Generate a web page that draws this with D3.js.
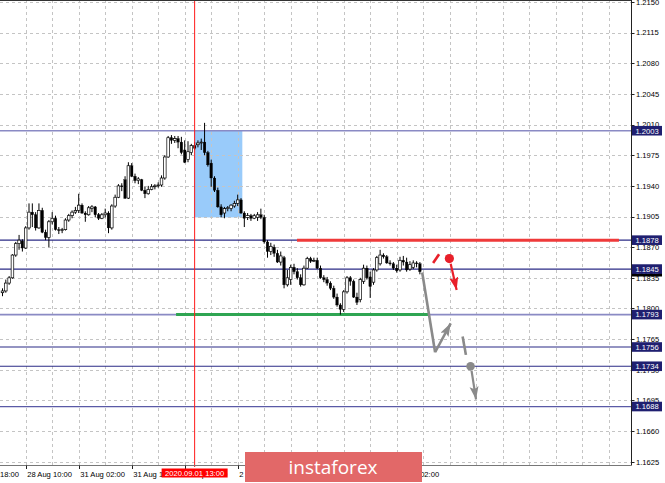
<!DOCTYPE html>
<html><head><meta charset="utf-8">
<script src="https://cdn.jsdelivr.net/npm/d3@7"></script>
<style>body{margin:0;background:#fff;}svg{display:block;font-family:"Liberation Sans",Arial,sans-serif;}</style>
</head><body><svg id="c" width="665" height="483"></svg>
<script>
// ---- data (EURUSD H1) ----
const opens=[1.1818,1.1820,1.1829,1.1835,1.1861,1.1874,1.1877,1.1869,1.1892,1.1910,
1.1907,1.1892,1.1912,1.1887,1.1881,1.1899,1.1903,1.1890,1.1889,1.1890,
1.1901,1.1906,1.1910,1.1912,1.1918,1.1909,1.1907,1.1914,1.1916,1.1907,
1.1903,1.1907,1.1909,1.1892,1.1917,1.1927,1.1940,1.1947,1.1926,1.1963,
1.1951,1.1946,1.1947,1.1935,1.1931,1.1936,1.1939,1.1940,1.1941,1.1949,
1.1973,1.1995,1.1992,1.1994,1.1990,1.1981,1.1970,1.1978,1.1986,1.1987,
1.1989,1.1990,1.1978,1.1966,1.1949,1.1935,1.1916,1.1909,1.1914,1.1914,
1.1917,1.1920,1.1924,1.1909,1.1904,1.1906,1.1903,1.1904,1.1907,1.1904,
1.1876,1.1865,1.1870,1.1863,1.1853,1.1858,1.1827,1.1833,1.1847,1.1842,
1.1835,1.1827,1.1846,1.1857,1.1854,1.1855,1.1846,1.1835,1.1833,1.1829,
1.1823,1.1813,1.1804,1.1799,1.1819,1.1835,1.1831,1.1813,1.1810,1.1831,
1.1846,1.1836,1.1830,1.1844,1.1851,1.1861,1.1859,1.1852,1.1851,1.1846,
1.1844,1.1855,1.1853,1.1845,1.1847,1.1852,1.1851];
const closes=[1.1820,1.1829,1.1835,1.1861,1.1874,1.1878,1.1869,1.1892,1.1910,1.1907,
1.1892,1.1912,1.1887,1.1881,1.1899,1.1903,1.1890,1.1889,1.1890,1.1901,
1.1906,1.1910,1.1912,1.1918,1.1909,1.1907,1.1915,1.1916,1.1907,1.1903,
1.1907,1.1909,1.1892,1.1917,1.1927,1.1940,1.1939,1.1926,1.1963,1.1951,
1.1946,1.1948,1.1935,1.1931,1.1936,1.1939,1.1940,1.1941,1.1949,1.1973,
1.1995,1.1992,1.1994,1.1990,1.1978,1.1967,1.1979,1.1986,1.1983,1.1989,
1.1990,1.1978,1.1964,1.1949,1.1935,1.1916,1.1907,1.1914,1.1915,1.1918,
1.1920,1.1924,1.1909,1.1903,1.1906,1.1903,1.1906,1.1907,1.1904,1.1876,
1.1865,1.1871,1.1863,1.1853,1.1860,1.1827,1.1835,1.1847,1.1842,1.1835,
1.1827,1.1846,1.1857,1.1854,1.1855,1.1846,1.1835,1.1833,1.1829,1.1823,
1.1813,1.1804,1.1799,1.1819,1.1835,1.1831,1.1813,1.1807,1.1833,1.1846,
1.1835,1.1825,1.1844,1.1858,1.1861,1.1859,1.1852,1.1851,1.1846,1.1843,
1.1855,1.1853,1.1844,1.1850,1.1852,1.1851,1.1842];
const highs=[1.1823,1.1833,1.1837,1.1862,1.1876,1.1884,1.1879,1.1894,1.1920,1.1920,
1.1910,1.1920,1.1915,1.1890,1.1901,1.1910,1.1906,1.1893,1.1892,1.1903,
1.1908,1.1912,1.1916,1.1931,1.1920,1.1911,1.1917,1.1918,1.1917,1.1909,
1.1909,1.1914,1.1911,1.1919,1.1930,1.1942,1.1943,1.1951,1.1967,1.1966,
1.1954,1.1950,1.1948,1.1939,1.1940,1.1942,1.1942,1.1944,1.1952,1.1975,
1.1997,1.1998,1.1997,1.1997,1.1996,1.1992,1.1991,1.1988,1.1990,1.1992,
1.1994,1.2012,1.1980,1.1970,1.1951,1.1938,1.1919,1.1916,1.1917,1.1919,
1.1923,1.1930,1.1926,1.1911,1.1909,1.1908,1.1908,1.1910,1.1914,1.1907,
1.1878,1.1875,1.1873,1.1867,1.1865,1.1860,1.1844,1.1850,1.1851,1.1846,
1.1839,1.1849,1.1859,1.1859,1.1858,1.1858,1.1849,1.1838,1.1836,1.1831,
1.1826,1.1817,1.1806,1.1821,1.1837,1.1837,1.1833,1.1818,1.1835,1.1850,
1.1849,1.1842,1.1846,1.1860,1.1867,1.1863,1.1861,1.1855,1.1853,1.1850,
1.1859,1.1860,1.1858,1.1854,1.1855,1.1854,1.1853];
const lows=[1.1814,1.1818,1.1827,1.1834,1.1859,1.1867,1.1865,1.1868,1.1890,1.1893,
1.1889,1.1891,1.1886,1.1878,1.1870,1.1896,1.1889,1.1885,1.1886,1.1889,
1.1899,1.1903,1.1908,1.1909,1.1908,1.1899,1.1906,1.1910,1.1904,1.1901,
1.1902,1.1904,1.1886,1.1890,1.1915,1.1926,1.1934,1.1925,1.1925,1.1950,
1.1943,1.1942,1.1934,1.1926,1.1930,1.1935,1.1936,1.1938,1.1939,1.1947,
1.1972,1.1988,1.1989,1.1983,1.1976,1.1966,1.1967,1.1975,1.1981,1.1984,
1.1981,1.1975,1.1962,1.1939,1.1933,1.1915,1.1904,1.1903,1.1911,1.1911,
1.1915,1.1917,1.1908,1.1893,1.1901,1.1900,1.1902,1.1900,1.1902,1.1874,
1.1858,1.1861,1.1859,1.1852,1.1849,1.1823,1.1825,1.1827,1.1839,1.1833,
1.1825,1.1826,1.1845,1.1852,1.1853,1.1845,1.1834,1.1830,1.1826,1.1821,
1.1811,1.1802,1.1793,1.1796,1.1817,1.1826,1.1812,1.1804,1.1807,1.1828,
1.1833,1.1812,1.1827,1.1842,1.1849,1.1857,1.1851,1.1849,1.1844,1.1841,
1.1842,1.1849,1.1842,1.1843,1.1845,1.1847,1.1839];

const yTicks=[1.2150,1.2115,1.2080,1.2045,1.2010,1.1975,1.1940,1.1905,1.1870,1.1835,1.1800,1.1765,1.1730,1.1695,1.1660,1.1625];
const xTickIdx=[-9,7,23,39,55,71,87,103,119];
const xTickLabels=["27 Aug 18:00","28 Aug 10:00","31 Aug 02:00","31 Aug 18:00","1 Sep 10:00","2 Sep 02:00","2 Sep 18:00","3 Sep 10:00","4 Sep 02:00"];
const levels=[1.2003,1.1878,1.1845,1.1793,1.1756,1.1734,1.1688];
const levelTone=["light","dark","dark","light","dark","dark","mid"];
const bidPrice=1.1842;
const cursorIdx=58, cursorLabel="2020.09.01 13:00";
const zone={i0:57.8,i1:72.4,p0:1.2003,p1:1.1904};
const resistance={i0:88.9,i1:186.1,p:1.1878};
const support={i0:52.4,i1:128.5,p:1.1793};
// annotation paths in (bar index, price)
const redDash=[[130.0,1.1852],[131.8,1.1862]];
const redDot=[134.9,1.1857];
const redArrow=[[135.3,1.1851],[137.1,1.1821]];
const grayDown=[[126.7,1.1841],[130.6,1.1750]];
const grayUp=[[130.6,1.1750],[135.3,1.1783]];
const grayDash=[[138.9,1.1768],[139.9,1.1747]];
const grayDot=[141.3,1.1734];
const grayArrow=[[141.6,1.1729],[142.95,1.1696]];

// ---- scales ----
const W=665,H=483,R=631,B=465.5;
const step=3.3125;
const x=d3.scaleLinear().domain([0,1]).range([2.5,2.5+step]);
const y=d3.scaleLinear().domain([1.1625,1.2150]).range([461.7,2]);
const svg=d3.select("#c");
const ax=v=>Math.round(v)+0.5;

// zone
svg.append("rect").attr("x",x(zone.i0)).attr("y",y(zone.p0)).attr("width",x(zone.i1)-x(zone.i0)).attr("height",y(zone.p1)-y(zone.p0)).attr("fill","#99cbfa");

// grid
const g=svg.append("g").attr("stroke","#c4c4c4").attr("stroke-dasharray","3,3").attr("stroke-width",1);
yTicks.forEach(t=>g.append("line").attr("x1",0).attr("x2",R).attr("y1",ax(y(t))).attr("y2",ax(y(t))));
d3.range(-1,190,8).forEach(i=>{const px=x(i); if(px<R-2) g.append("line").attr("x1",ax(px)).attr("x2",ax(px)).attr("y1",0).attr("y2",B)});

// level lines
const toneCol={light:"#8a8ac4",dark:"#2b2b86",mid:"#5a5aa6"};
levels.forEach((l,k)=>svg.append("line").attr("x1",0).attr("x2",R).attr("y1",y(l)).attr("y2",y(l)).attr("stroke",toneCol[levelTone[k]]).attr("stroke-width",levelTone[k]==="light"?1.6:1.2));

// resistance / support
svg.append("line").attr("x1",x(resistance.i0)).attr("x2",x(resistance.i1)).attr("y1",y(resistance.p)).attr("y2",y(resistance.p)).attr("stroke","#ef3a3a").attr("stroke-width",3);
svg.append("line").attr("x1",x(support.i0)).attr("x2",x(support.i1)).attr("y1",y(support.p)).attr("y2",y(support.p)).attr("stroke","#2fa552").attr("stroke-width",3);

// candles
const cg=svg.append("g");
opens.forEach((o,i)=>{
  const c=closes[i],cx=x(i);
  cg.append("line").attr("x1",cx).attr("x2",cx).attr("y1",y(highs[i])).attr("y2",y(lows[i])).attr("stroke","#000").attr("stroke-width",1);
  const top=y(Math.max(o,c)),bot=y(Math.min(o,c));
  const bull=c>=o;
  cg.append("rect").attr("x",cx-1.3).attr("width",2.6).attr("y",top).attr("height",Math.max(0.8,bot-top))
    .attr("fill",bull?"#fff":"#000").attr("stroke","#000").attr("stroke-width",bull?0.7:0.3);
});

// cursor line
svg.append("line").attr("x1",x(cursorIdx)).attr("x2",x(cursorIdx)).attr("y1",0).attr("y2",467).attr("stroke","#ff1a1a").attr("stroke-width",1);

// arrows
const defs=svg.append("defs");
function marker(id,col){defs.append("marker").attr("id",id).attr("markerUnits","userSpaceOnUse").attr("markerWidth",14).attr("markerHeight",10).attr("refX",13).attr("refY",4.5).attr("orient","auto").append("path").attr("d","M0,0 L13,4.5 L0,9 L2.5,4.5 Z").attr("fill",col);}
marker("ar","#e8202a");marker("ag","#8a8a8a");
function seg(pts,col,w,opts={}){
  const l=svg.append("line").attr("x1",x(pts[0][0])).attr("y1",y(pts[0][1])).attr("x2",x(pts[1][0])).attr("y2",y(pts[1][1])).attr("stroke",col).attr("stroke-width",w).attr("stroke-linecap","butt");
  if(opts.m) l.attr("marker-end",`url(#${opts.m})`);
  return l;}
seg(redDash,"#e8202a",2.6);
svg.append("circle").attr("cx",x(redDot[0])).attr("cy",y(redDot[1])).attr("r",4.6).attr("fill","#e8202a");
seg(redArrow,"#e8202a",2.2,{m:"ar"});
seg(grayDown,"#8a8a8a",2.6);
seg(grayUp,"#8a8a8a",2.6,{m:"ag"});
seg(grayDash,"#8a8a8a",2.6);
svg.append("circle").attr("cx",x(grayDot[0])).attr("cy",y(grayDot[1])).attr("r",4.3).attr("fill","#8a8a8a");
seg(grayArrow,"#8a8a8a",2.2,{m:"ag"});

// frame
svg.append("line").attr("x1",0).attr("x2",R+0.5).attr("y1",0.5).attr("y2",0.5).attr("stroke","#333");
svg.append("line").attr("x1",R+0.5).attr("x2",R+0.5).attr("y1",0).attr("y2",B).attr("stroke","#222");
svg.append("line").attr("x1",0).attr("x2",R+0.5).attr("y1",B).attr("y2",B).attr("stroke","#777");

// y axis labels
const yl=svg.append("g").attr("font-size","7.6px").attr("fill","#000");
yTicks.forEach(t=>{const py=y(t);
  svg.append("line").attr("x1",R).attr("x2",R+3.5).attr("y1",ax(py)).attr("y2",ax(py)).attr("stroke","#222");
  yl.append("text").attr("x",636).attr("y",py+2.8).text(t.toFixed(4));});

// x axis labels
const xl=svg.append("g").attr("font-size","7.6px").attr("fill","#000");
xTickIdx.forEach((i,k)=>{const px=x(i);
  svg.append("line").attr("x1",ax(px)).attr("x2",ax(px)).attr("y1",B).attr("y2",B+3.5).attr("stroke","#222");
  xl.append("text").attr("x",px+1.5).attr("y",476.5).text(xTickLabels[k]);});

// bid label (behind)
svg.append("rect").attr("x",632).attr("y",y(bidPrice)-4.8).attr("width",30).attr("height",9.6).attr("fill","#000");
svg.append("text").attr("x",647).attr("y",y(bidPrice)+2.8).attr("text-anchor","middle").attr("font-size","7.6px").attr("fill","#fff").text(bidPrice.toFixed(4));
// level boxes
levels.forEach(l=>{const py=y(l);
  svg.append("rect").attr("x",632).attr("y",py-4.8).attr("width",30).attr("height",9.6).attr("fill","#1f1f70");
  svg.append("text").attr("x",647).attr("y",py+2.8).attr("text-anchor","middle").attr("font-size","7.6px").attr("fill","#fff").text(l.toFixed(4));});

// cursor time label
svg.append("rect").attr("x",x(cursorIdx)-33).attr("y",468.5).attr("width",66).attr("height",9).attr("fill","#ff0000");
svg.append("text").attr("x",x(cursorIdx)).attr("y",476).attr("text-anchor","middle").attr("font-size","7.6px").attr("fill","#fff").text(cursorLabel);

// watermark
svg.append("rect").attr("x",245).attr("y",452).attr("width",177).attr("height",30).attr("fill","#e26868");
svg.append("text").attr("x",333).attr("y",474).attr("text-anchor","middle").attr("font-family","'Open Sans',sans-serif").attr("font-size","19px").attr("fill","#fff").text("instaforex");
</script></body></html>
